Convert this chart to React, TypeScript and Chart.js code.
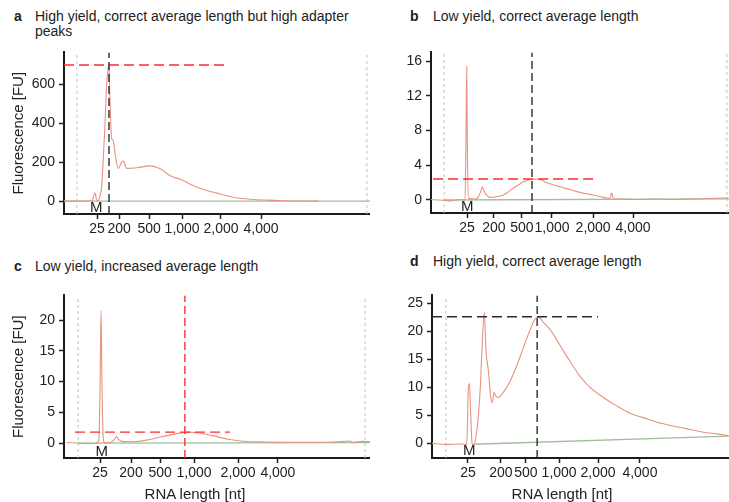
import React, { useEffect, useRef } from "react";
import { Chart, registerables } from "chart.js";

Chart.register(...registerables);

const FONT = '"Liberation Sans", Arial, Helvetica, sans-serif';

// RNA length labels (nt) shown on every x axis
const sizeLabels = ["25", "200", "500", "1,000", "2,000", "4,000"];

// ---------- Panel a ----------
const aTickPos = [10.8, 18.0, 27.8, 38.6, 51.3, 64.4];
const aYTicks = [0, 200, 400, 600];
const aTime = [0, 5.2, 9.2, 10.1, 10.6, 11.0, 11.8, 12.3, 12.7, 13.4, 13.95, 14.5, 14.7, 15.0, 15.6, 16.1, 16.7, 17.7, 18.9, 19.4, 20.5, 23.8, 28.1, 31.4, 34.6, 37.9, 44.4, 50.0, 55.2, 60.8, 66.3, 71.6, 83.0];
const aFluor = [0, 0, 2, 42, 10, 0, 30, 73, 173, 397, 600, 690, 698, 530, 320, 310, 243, 168, 200, 205, 168, 171, 181, 166, 132, 112, 66, 41, 20, 10, 5, 2, 0];
const aBaseTime = [0, 100];
const aBaseFluor = [0, 0];
const aLadder = [4.2, 99.0];
const aAvg = { x: 14.7, y: 698, hStart: 0, hEnd: 53.3 };
const aMarker = { x: 10.5, y: -36 };

// ---------- Panel b ----------
const bTickPos = [12.1, 21.1, 30.5, 40.6, 54.4, 67.8];
const bYTicks = [0, 4, 8, 12, 16];
const bTime = [0, 3.0, 6.4, 9.7, 11.4, 11.7, 12.0, 12.2, 12.6, 14.8, 15.8, 16.8, 17.2, 17.8, 18.8, 19.8, 21.5, 24.3, 25.8, 27.6, 29.2, 31.0, 32.6, 34.0, 35.5, 37.0, 38.8, 40.9, 43.3, 46.0, 48.9, 51.7, 54.4, 57.7, 60.1, 60.6, 61.2, 65.1, 70.1, 75.2, 80.2, 85.2, 90.3, 95.9, 99.7];
const bFluor = [0.05, 0, -0.1, 0.05, 0, 6, 15.4, 6, 0.2, 0.1, 0.3, 1.1, 1.53, 1.0, 0.5, 0.3, 0.35, 0.58, 0.9, 1.35, 1.7, 2.1, 2.28, 2.35, 2.42, 2.3, 2.0, 1.75, 1.53, 1.25, 0.96, 0.75, 0.58, 0.3, 0.2, 0.84, 0.15, 0.1, 0.05, 0.12, 0.05, 0.1, 0.12, 0.2, 0.25];
const bBaseTime = [4.4, 100];
const bBaseFluor = [0, 0.12];
const bLadder = [4.4, 99.3];
const bAvg = { x: 33.9, y: 2.42, hStart: 0.7, hEnd: 55.7 };
const bMarker = { x: 12.2, y: -0.8 };

// ---------- Panel c ----------
const cTickPos = [11.8, 21.9, 31.4, 42.5, 56.9, 69.9];
const cYTicks = [0, 5, 10, 15, 20];
const cTime = [0.9, 5.2, 10.1, 11.4, 11.8, 12.1, 12.4, 12.8, 13.2, 15.0, 16.7, 17.2, 17.7, 18.9, 22.6, 27.0, 31.4, 35.7, 39.0, 41.0, 43.5, 45.5, 49.9, 54.2, 58.6, 66.2, 77.1, 88.0, 93.5, 94.4, 97.7, 100];
const cFluor = [0.1, 0, -0.05, 0.5, 10, 21.5, 10, 1, 0.1, 0.1, 0.75, 1.12, 0.7, 0.3, 0.25, 0.5, 1.0, 1.44, 1.72, 1.8, 1.7, 1.55, 1.07, 0.6, 0.32, 0.2, 0.15, 0.2, 0.35, 0.15, 0.3, 0.25];
const cBaseTime = [4.6, 100];
const cBaseFluor = [0, 0.1];
const cLadder = [4.6, 98.4];
const cAvg = { x: 39.5, y: 1.8, hStart: 3.6, hEnd: 54.2 };
const cMarker = { x: 12.3, y: -1.4 };

// ---------- Panel d ----------
const dTickPos = [12.1, 23.2, 31.6, 42.8, 55.9, 70.0];
const dYTicks = [0, 5, 10, 15, 20, 25];
const dTime = [0, 4.9, 9.4, 11.7, 12.2, 12.6, 13.0, 13.5, 13.9, 15.1, 16.2, 16.9, 17.6, 18.2, 19.0, 19.8, 20.3, 20.9, 21.4, 22.3, 24.0, 26.3, 28.5, 30.7, 33.0, 34.7, 35.8, 37.5, 40.3, 43.1, 46.5, 49.8, 53.2, 57.7, 62.2, 66.7, 72.3, 77.9, 85.8, 91.4, 95.9, 99.8];
const dFluor = [0, -0.17, -0.1, -0.17, 9.4, 10.7, 5.8, 0, -0.3, 2.3, 9.4, 17.5, 23.4, 16.4, 12.9, 8.2, 7.3, 9.1, 8.5, 8.2, 9.1, 11.1, 13.8, 17.0, 20.2, 22.2, 22.5, 21.6, 19.9, 17.5, 14.6, 12.0, 10.0, 8.2, 6.7, 5.4, 4.4, 3.5, 2.6, 2.0, 1.7, 1.4];
const dBaseTime = [13.9, 100];
const dBaseFluor = [-0.15, 1.3];
const dLadder = [4.7];
const dAvg = { x: 35.4, y: 22.6, hStart: 0, hEnd: 55.9 };
const dMarker = { x: 12.5, y: -1.35 };

const RED = "#ff2b2b";
const BLACK = "#2a2a2a";

type Spec = {
  left: number; top: number; width: number; height: number;
  yWidth: number; xHeight: number; padTop: number;
  yMin: number; yMax: number; yTicks: number[]; tickPos: number[];
  time: number[]; fluor: number[]; baseTime: number[]; baseFluor: number[];
  ladder: number[]; avg: { x: number; y: number; hStart: number; hEnd: number };
  hColor: string; vColor: string; marker: { x: number; y: number };
  yTitle: boolean;
};

const specs: Spec[] = [
  { left: 0, top: 40, width: 370, height: 210, yWidth: 64, xHeight: 36, padTop: 11,
    yMin: -66, yMax: 763, yTicks: aYTicks, tickPos: aTickPos, time: aTime, fluor: aFluor,
    baseTime: aBaseTime, baseFluor: aBaseFluor, ladder: aLadder, avg: aAvg,
    hColor: RED, vColor: BLACK, marker: aMarker, yTitle: true },
  { left: 370, top: 40, width: 359, height: 210, yWidth: 61, xHeight: 37, padTop: 12,
    yMin: -1.5, yMax: 17.0, yTicks: bYTicks, tickPos: bTickPos, time: bTime, fluor: bFluor,
    baseTime: bBaseTime, baseFluor: bBaseFluor, ladder: bLadder, avg: bAvg,
    hColor: RED, vColor: BLACK, marker: bMarker, yTitle: false },
  { left: 0, top: 283, width: 370, height: 220, yWidth: 64, xHeight: 45, padTop: 10,
    yMin: -2.4, yMax: 24.0, yTicks: cYTicks, tickPos: cTickPos, time: cTime, fluor: cFluor,
    baseTime: cBaseTime, baseFluor: cBaseFluor, ladder: cLadder, avg: cAvg,
    hColor: RED, vColor: RED, marker: cMarker, yTitle: true },
  { left: 370, top: 283, width: 359, height: 220, yWidth: 62, xHeight: 45, padTop: 10,
    yMin: -2.6, yMax: 26.4, yTicks: dYTicks, tickPos: dTickPos, time: dTime, fluor: dFluor,
    baseTime: dBaseTime, baseFluor: dBaseFluor, ladder: dLadder, avg: dAvg,
    hColor: BLACK, vColor: BLACK, marker: dMarker, yTitle: false },
];

function Panel({ s }: { s: Spec }) {
  const ref = useRef<HTMLCanvasElement | null>(null);
  useEffect(() => {
    if (!ref.current) return;
    const pts = (xs: number[], ys: number[]) => xs.map((x, i) => ({ x, y: ys[i] }));
    const ladderSets = s.ladder.map((lx) => ({
      data: [{ x: lx, y: s.yMin }, { x: lx, y: s.yMax }],
      borderColor: "#b9cbb2", borderWidth: 1, borderDash: [3, 3], pointRadius: 0, order: 5,
    }));
    const markerPlugin = {
      id: "markerLabel",
      afterDatasetsDraw(chart: any) {
        const { ctx, scales } = chart;
        ctx.save();
        ctx.font = `15px ${FONT}`;
        ctx.fillStyle = "#222";
        ctx.textAlign = "center";
        ctx.textBaseline = "middle";
        ctx.fillText("M", scales.x.getPixelForValue(s.marker.x), scales.y.getPixelForValue(s.marker.y));
        ctx.restore();
      },
    };
    const chart = new Chart(ref.current, {
      type: "line",
      data: {
        datasets: [
          ...ladderSets,
          { data: pts(s.baseTime, s.baseFluor), borderColor: "#a3bd9f", borderWidth: 1.3, pointRadius: 0, order: 4 },
          { data: pts(s.time, s.fluor), borderColor: "#e8927f", borderWidth: 1.1, pointRadius: 0,
            cubicInterpolationMode: "monotone", order: 3 },
          { data: [{ x: s.avg.hStart, y: s.avg.y }, { x: s.avg.hEnd, y: s.avg.y }],
            borderColor: s.hColor, borderWidth: 1.4, borderDash: [10, 5], pointRadius: 0, order: 2 },
          { data: [{ x: s.avg.x, y: s.yMin }, { x: s.avg.x, y: s.yMax }],
            borderColor: s.vColor, borderWidth: 1.4, borderDash: [8, 4], pointRadius: 0, order: 1 },
        ] as any,
      },
      options: {
        animation: false,
        responsive: false,
        maintainAspectRatio: false,
        layout: { padding: { top: s.padTop, right: 0, left: 0, bottom: 0 } },
        plugins: { legend: { display: false }, tooltip: { enabled: false } },
        scales: {
          x: {
            type: "linear", min: 0, max: 100,
            afterBuildTicks: (sc: any) => { sc.ticks = s.tickPos.map((v) => ({ value: v })); },
            afterFit: (sc: any) => { sc.height = s.xHeight; },
            ticks: {
              callback: (_v: any, i: number) => sizeLabels[i],
              font: { family: FONT, size: 14 }, color: "#222", autoSkip: false, maxRotation: 0, padding: 2,
            },
            grid: { drawOnChartArea: false, drawTicks: true, tickLength: 5, tickColor: "#222", tickWidth: 1.5 },
            border: { display: true, color: "#1b1b1b", width: 2 },
          },
          y: {
            type: "linear", min: s.yMin, max: s.yMax,
            afterBuildTicks: (sc: any) => { sc.ticks = s.yTicks.map((v) => ({ value: v })); },
            afterFit: (sc: any) => { sc.width = s.yWidth; },
            ticks: { font: { family: FONT, size: 14 }, color: "#222", padding: 4 },
            grid: { drawOnChartArea: false, drawTicks: true, tickLength: 5, tickColor: "#222", tickWidth: 1.5 },
            border: { display: true, color: "#1b1b1b", width: 2 },
            title: { display: s.yTitle, text: "Fluorescence [FU]", font: { family: FONT, size: 15 }, color: "#222",
              padding: { top: 10, bottom: 0 } },
          },
        },
      } as any,
      plugins: [markerPlugin],
    });
    return () => chart.destroy();
  }, [s]);
  return (
    <canvas
      ref={ref}
      width={s.width}
      height={s.height}
      style={{ position: "absolute", left: s.left, top: s.top, width: s.width, height: s.height }}
    />
  );
}

const titles = [
  { letter: "a", lx: 14, tx: 35, top: 9, lines: ["High yield, correct average length but high adapter", "peaks"] },
  { letter: "b", lx: 410, tx: 433, top: 9, lines: ["Low yield, correct average length"] },
  { letter: "c", lx: 14, tx: 35, top: 259, lines: ["Low yield, increased average length"] },
  { letter: "d", lx: 410, tx: 433, top: 254, lines: ["High yield, correct average length"] },
];

const xTitles = [
  { cx: 195, top: 485, text: "RNA length [nt]" },
  { cx: 562, top: 485, text: "RNA length [nt]" },
];

export default function App() {
  return (
    <div style={{ position: "fixed", left: 0, top: 0, width: 729, height: 502, background: "#fff", overflow: "hidden",
      fontFamily: FONT, color: "#222" }}>
      {specs.map((s, i) => <Panel key={i} s={s} />)}
      {titles.map((t) => (
        <React.Fragment key={t.letter}>
          <div style={{ position: "absolute", left: t.lx, top: t.top, fontSize: 14, lineHeight: "15px", fontWeight: "bold" }}>
            {t.letter}
          </div>
          <div style={{ position: "absolute", left: t.tx, top: t.top, fontSize: 14, lineHeight: "15px", whiteSpace: "nowrap" }}>
            {t.lines.map((l, j) => <div key={j}>{l}</div>)}
          </div>
        </React.Fragment>
      ))}
      {xTitles.map((t, i) => (
        <div key={i} style={{ position: "absolute", left: t.cx, top: t.top, transform: "translateX(-50%)",
          fontSize: 15, lineHeight: "18px", whiteSpace: "nowrap" }}>
          {t.text}
        </div>
      ))}
    </div>
  );
}
